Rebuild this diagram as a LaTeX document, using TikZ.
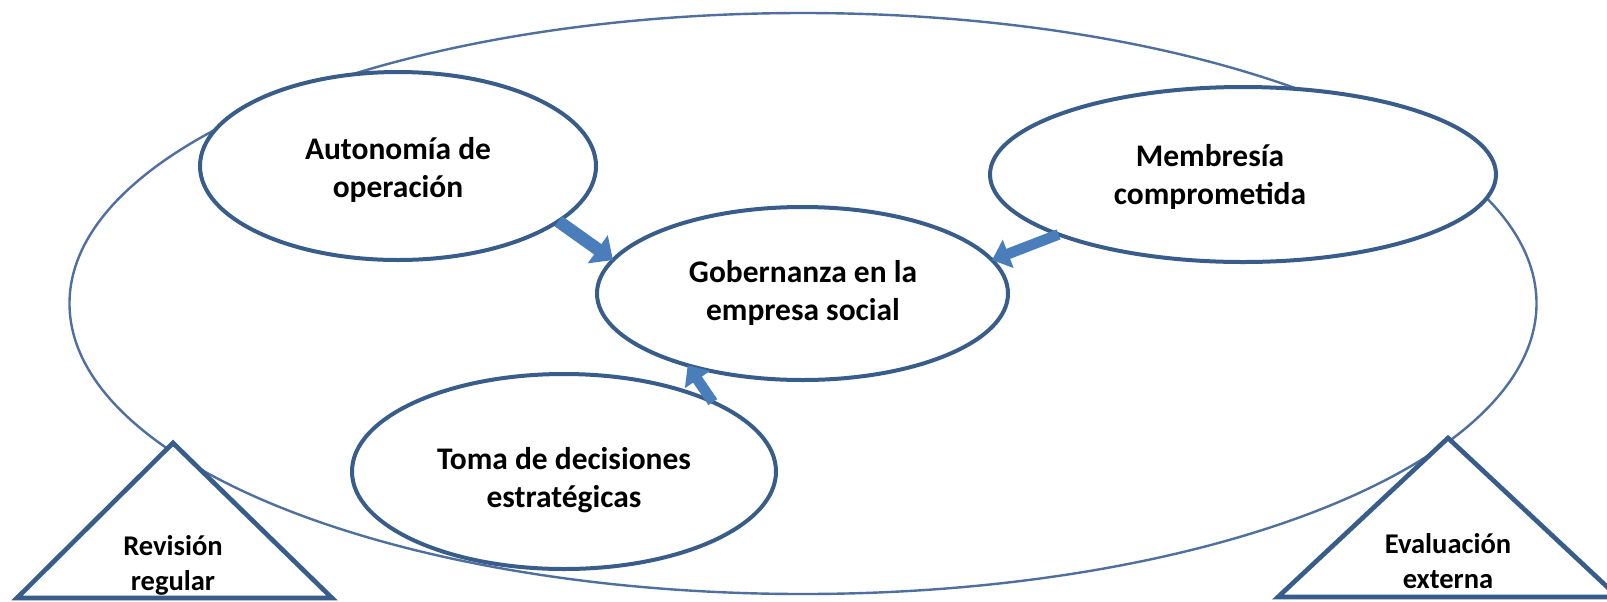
\documentclass[tikz,border=0pt]{standalone}
\usepackage{fontspec}
\setmainfont{Carlito}
\usetikzlibrary{shapes.geometric,arrows.meta}
\definecolor{edgeblue}{HTML}{385D8A}
\definecolor{bigline}{HTML}{4F6F9F}
\definecolor{arrowblue}{HTML}{4A7EBB}
\begin{document}
\begin{tikzpicture}[x=0.75pt,y=-0.75pt,
  outeroval/.style={ellipse, draw=bigline, line width=1.8pt, inner sep=0pt, outer sep=0pt},
  oval/.style={ellipse, draw=edgeblue, line width=3pt, fill=white, inner sep=0pt, outer sep=0pt},
  tri/.style={draw=edgeblue, line width=3.5pt, fill=white, line join=miter},
  lbl/.style={font=\bfseries\fontsize{23.6}{28.5}\selectfont, align=center, text=black, inner sep=0pt},
  tlbl/.style={font=\bfseries\fontsize{21.4}{26.3}\selectfont, align=center, text=black, inner sep=0pt},
  blockarrow/.style={draw=arrowblue, line width=9.5pt, -{Triangle[width=25pt,length=14pt]}},
  thinarrow/.style={draw=arrowblue, line width=8pt, -{Triangle[width=22pt,length=13pt]}}]
\useasboundingbox (0,0) rectangle (1607,601);
\fill[white] (0,0) rectangle (1607,601);
% outer ellipse
\node[outeroval, minimum width=1100.25pt, minimum height=435.75pt] (outer) at (803,303.5) {};
% triangles
\draw[tri] (173,443) coordinate (revtop) -- (332,598) -- (17,598) -- cycle;
\draw[tri] (1448,438) coordinate (evatop) -- (1618,597) -- (1278,597) -- cycle;
\node[tlbl] (rev) at (173,565) {Revisión\\regular};
\node[tlbl] (eva) at (1448,561) {Evaluación\\externa};
% inner ellipses
\node[oval, minimum width=297pt, minimum height=141pt] (auto) at (398,166) {};
\node[oval, minimum width=379.5pt, minimum height=131.25pt] (mem) at (1243,174.5) {};
\node[oval, minimum width=308.25pt, minimum height=129.75pt] (gob) at (802.5,293.5) {};
\node[oval, minimum width=318pt, minimum height=146.25pt] (toma) at (564,471.5) {};
% labels
\node[lbl] (autotxt) at (398,170) {Autonomía de\\operación};
\node[lbl] (memtxt) at (1210,177) {Membresía\\comprometida};
\node[lbl] (gobtxt) at (803,293) {Gobernanza en la\\empresa social};
\node[lbl] (tomatxt) at (564,480) {Toma de decisiones\\estratégicas};
% arrows
\draw[blockarrow] (auto.-19) -- (gob.170);
\draw[thinarrow] (mem.198) -- (gob.10);
\draw[thinarrow] (toma.25) -- (gob.212);
\end{tikzpicture}
\end{document}
